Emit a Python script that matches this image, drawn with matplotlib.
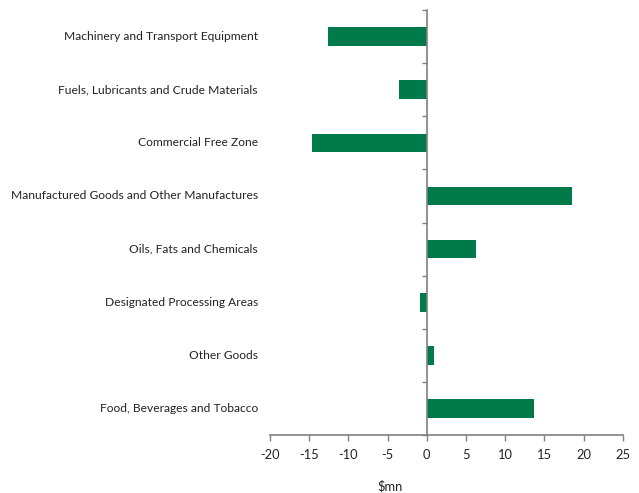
import matplotlib
matplotlib.use("Agg")
import matplotlib.pyplot as plt
import matplotlib.transforms as mtransforms
import numpy as np

categories = [
    "Machinery and Transport Equipment",
    "Fuels, Lubricants and Crude Materials",
    "Commercial Free Zone",
    "Manufactured Goods and Other Manufactures",
    "Oils, Fats and Chemicals",
    "Designated Processing Areas",
    "Other Goods",
    "Food, Beverages and Tobacco",
]
values = [-12.6, -3.6, -14.6, 18.5, 6.3, -0.8, 0.9, 13.7]
x_ticks = [-20, -15, -10, -5, 0, 5, 10, 15, 20, 25]
x_label = "$mn"

bar_color = "#007A4A"
axis_color = "#808080"
text_color = "#222222"

plt.rcParams["font.family"] = ["Lato", "DejaVu Sans"]

fig = plt.figure(figsize=(6.39, 4.93), dpi=100)
ax = fig.add_axes([0.4225, 0.1176, 0.552, 0.862])

n = len(categories)
pos = np.arange(n)[::-1]  # first category at the top
ax.barh(pos, values, height=0.35, color=bar_color, zorder=2)

ax.set_xlim(x_ticks[0], x_ticks[-1])
ax.set_ylim(-0.5, n - 0.5)
ax.set_xticks(x_ticks)
ax.set_xticklabels([str(t) for t in x_ticks], fontsize=9.3, color=text_color)
ax.tick_params(axis="x", direction="out", length=4, width=1, color=axis_color, pad=6)

# vertical axis sits on zero, with ticks between categories
for s in ("top", "right"):
    ax.spines[s].set_visible(False)
ax.spines["left"].set_position(("data", 0))
ax.spines["left"].set_color(axis_color)
ax.spines["bottom"].set_color(axis_color)
ax.spines["left"].set_linewidth(1.2)
ax.spines["bottom"].set_linewidth(1.2)
ax.set_yticks(pos)
ax.set_yticklabels([])
ax.tick_params(axis="y", which="major", length=0)
ax.set_yticks(np.arange(n + 1) - 0.5, minor=True)
ax.tick_params(axis="y", which="minor", direction="out", length=3.5, width=1, color=axis_color)

# category labels at the left edge of the plot
trans = mtransforms.blended_transform_factory(ax.transAxes, ax.transData)
for p, c in zip(pos, categories):
    ax.text(-0.034, p, c, transform=trans, ha="right", va="center",
            fontsize=8.65, color=text_color)

ax.set_xlabel(x_label, fontsize=9.3, color=text_color)
ax.xaxis.set_label_coords(0.34, -0.105)

fig.savefig("out.png", dpi=100)
